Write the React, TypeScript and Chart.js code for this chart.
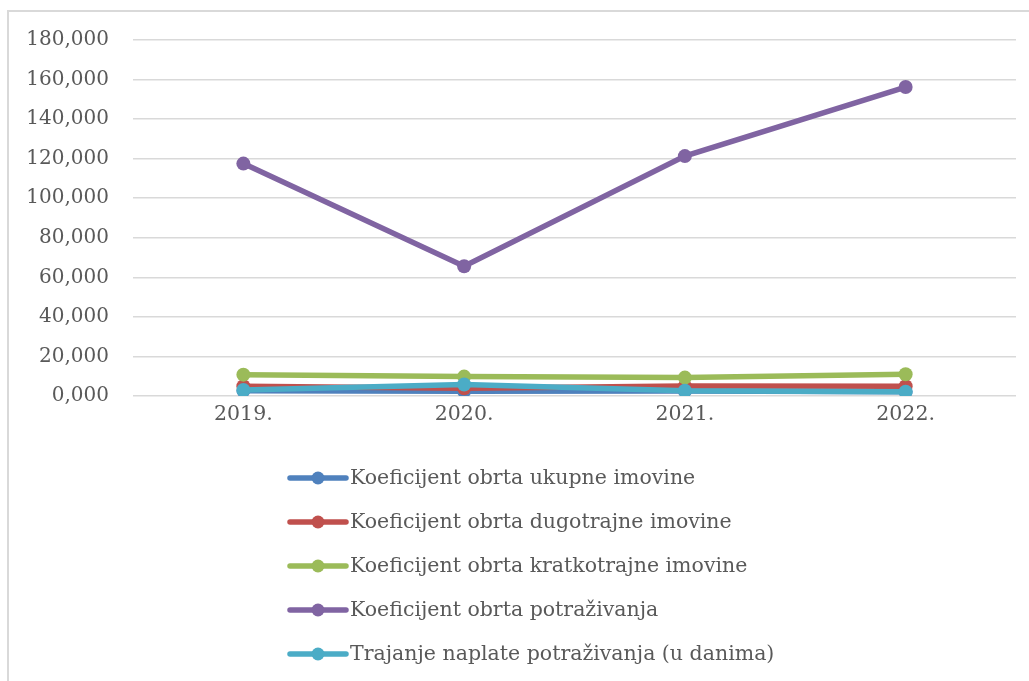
import React, { useEffect, useRef } from "react";
import { Chart, registerables } from "chart.js";

Chart.register(...registerables);

const years = ["2019.", "2020.", "2021.", "2022."];
const seriesNames = [
  "Koeficijent obrta ukupne imovine",
  "Koeficijent obrta dugotrajne imovine",
  "Koeficijent obrta kratkotrajne imovine",
  "Koeficijent obrta potraživanja",
  "Trajanje naplate potraživanja (u danima)",
];
const ukupneImovine = [2.6, 2.4, 2.5, 2.1];
const dugotrajneImovine = [4.9, 3.9, 5.0, 4.9];
const kratkotrajneImovine = [10.8, 9.8, 9.3, 11.0];
const potrazivanja = [117.5, 65.6, 121.3, 156.2];
const trajanjeNaplate = [3.0, 5.8, 2.7, 2.2];
const seriesColors = ["#4F81BD", "#C0504D", "#9BBB59", "#8064A2", "#4BACC6"];

const yMin = 0;
const yMax = 180;
const yStep = 20;

const FONT = "'DejaVu Serif', serif";
const TEXT = "#595959";

const legendPlugin = {
  id: "verticalLegend",
  afterDraw(chart: any) {
    const ctx = chart.ctx as CanvasRenderingContext2D;
    const area = chart.chartArea;
    ctx.save();
    chart.data.datasets.forEach((ds: any, i: number) => {
      const y = area.bottom + 82 + i * 44;
      const x0 = 290;
      const x1 = 346;
      ctx.strokeStyle = ds.borderColor;
      ctx.lineWidth = 5.5;
      ctx.lineCap = "round";
      ctx.beginPath();
      ctx.moveTo(x0, y);
      ctx.lineTo(x1, y);
      ctx.stroke();
      ctx.fillStyle = ds.borderColor;
      ctx.beginPath();
      ctx.arc((x0 + x1) / 2, y, 6.5, 0, Math.PI * 2);
      ctx.fill();
      ctx.fillStyle = TEXT;
      ctx.font = `20.5px ${FONT}`;
      ctx.textBaseline = "middle";
      ctx.textAlign = "left";
      ctx.fillText(ds.label, 350, y + 1);
    });
    ctx.restore();
  },
};

export default function App() {
  const ref = useRef<HTMLCanvasElement | null>(null);

  useEffect(() => {
    if (!ref.current) return;
    const values = [ukupneImovine, dugotrajneImovine, kratkotrajneImovine, potrazivanja, trajanjeNaplate];
    const chart = new Chart(ref.current, {
      type: "line",
      data: {
        labels: years,
        datasets: values.map((data, i) => ({
          label: seriesNames[i],
          data,
          borderColor: seriesColors[i],
          backgroundColor: seriesColors[i],
          pointBackgroundColor: seriesColors[i],
          pointBorderColor: seriesColors[i],
          borderWidth: 5.5,
          pointRadius: 7,
          pointBorderWidth: 0,
          tension: 0,
          fill: false,
          order: values.length - i,
        })),
      },
      options: {
        responsive: false,
        animation: false,
        layout: { padding: { top: 40, right: 13, bottom: 245, left: 0 } },
        plugins: {
          legend: { display: false },
          tooltip: { enabled: false },
        },
        scales: {
          x: {
            offset: true,
            grid: { display: false, drawTicks: false },
            border: { display: false },
            ticks: {
              color: TEXT,
              font: { family: FONT, size: 20.5 },
              padding: 6,
              maxRotation: 0,
            },
            afterFit(scale: any) {
              scale.height = 40;
            },
          },
          y: {
            min: yMin,
            max: yMax,
            grid: { color: "#D9D9D9", lineWidth: 1.5, drawTicks: false },
            border: { display: false },
            ticks: {
              stepSize: yStep,
              color: TEXT,
              font: { family: FONT, size: 20 },
              padding: 24,
              callback: (v: any) => Number(v).toFixed(3).replace(".", ","),
            },
            afterFit(scale: any) {
              scale.width = 133;
            },
          },
        },
      },
      plugins: [legendPlugin],
    });
    return () => chart.destroy();
  }, []);

  return (
    <div style={{ position: "fixed", left: 0, top: 0, width: 1029, height: 681, overflow: "hidden", background: "#fff" }}>
      <div
        style={{
          position: "absolute",
          left: 7,
          top: 10,
          width: 1100,
          height: 800,
          border: "2px solid #D9D9D9",
          boxSizing: "border-box",
        }}
      />
      <canvas ref={ref} width={1029} height={681} style={{ position: "absolute", left: 0, top: 0 }} />
    </div>
  );
}
